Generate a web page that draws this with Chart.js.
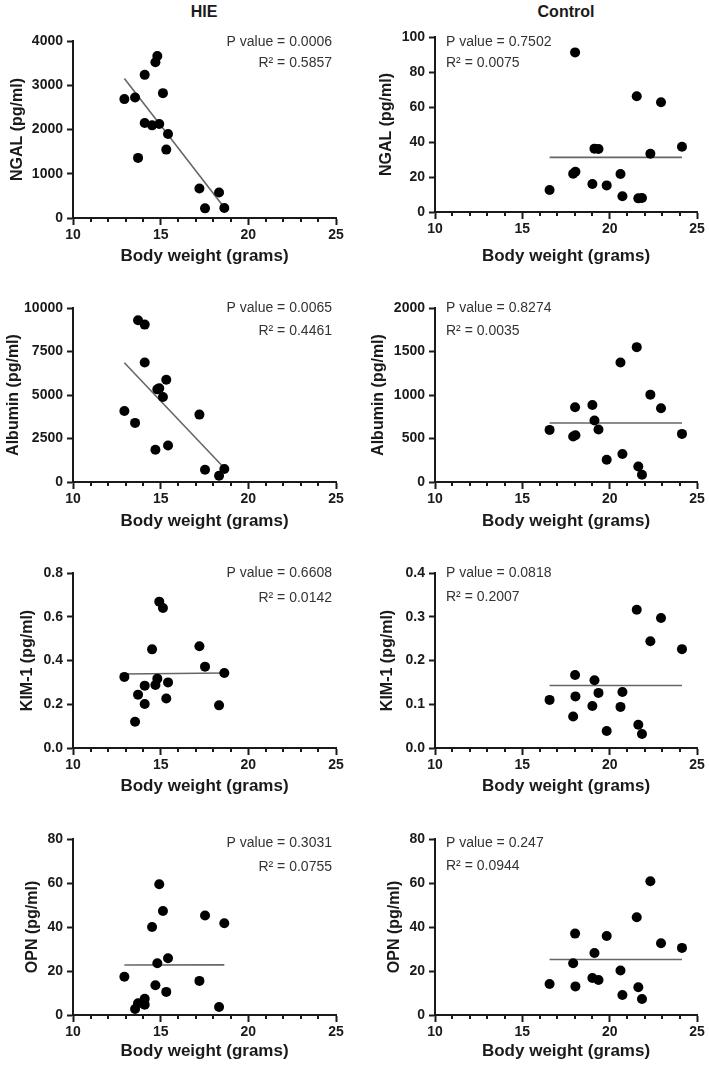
<!DOCTYPE html>
<html>
<head>
<meta charset="utf-8">
<script src="https://cdn.jsdelivr.net/npm/chart.js@4.4.0/dist/chart.umd.min.js"></script>
<style>
  html, body { margin: 0; padding: 0; background: #fff; }
  #page { position: relative; width: 709px; height: 1067px; overflow: hidden; }
  canvas { position: absolute; }
  .head { position: absolute; top: 3px; font: bold 16px "Liberation Sans", Arial, sans-serif; color: #1a1a1a; transform: translateX(-50%); white-space: nowrap; }
</style>
</head>
<body>
<div id="page">
  <div class="head" style="left:204px">HIE</div>
  <div class="head" style="left:566px">Control</div>
</div>
<script>
(function () {
    "use strict";

    // body weight (x) of each animal, same animals in all four rows
    const hieWeight = [12.93, 13.54, 13.71, 14.09, 14.09, 14.51, 14.70, 14.81, 14.92, 15.13, 15.32, 15.42, 17.21, 17.53, 18.33, 18.63];
    const ctrlWeight = [16.56, 17.91, 18.02, 18.04, 19.01, 19.13, 19.36, 19.83, 20.62, 20.73, 21.55, 21.64, 21.85, 22.33, 22.94, 24.14];

    // HIE group
    const hieNgal = [2687, 2724, 1358, 3235, 2146, 2094, 3520, 3662, 2124, 2822, 1546, 1899, 668, 218, 578, 225];
    const hieAlbumin = [4084, 3397, 9294, 9046, 6870, null, 1851, 5324, 5382, 4885, 5878, 2099, 3874, 706, 363, 744];
    const hieKim = [0.325, 0.120, 0.244, 0.285, 0.201, 0.451, 0.288, 0.317, 0.669, 0.640, 0.226, 0.300, 0.465, 0.372, 0.195, 0.343];
    const hieOpn = [17.4, 2.7, 5.3, 7.4, 4.7, 40.0, 13.5, 23.5, 59.4, 47.3, 10.5, 25.8, 15.5, 45.2, 3.6, 41.7];

    // Control group
    const ctrlNgal = [12.6, 21.9, 91.2, 23.0, 16.0, 36.2, 36.0, 15.2, 21.7, 9.0, 66.1, 7.8, 8.0, 33.3, 62.7, 37.3];
    const ctrlAlbumin = [599, 523, 859, 538, 885, 706, 603, 256, 1374, 321, 1550, 179, 84, 1004, 847, 553];
    const ctrlKim = [0.110, 0.072, 0.167, 0.118, 0.096, 0.155, 0.126, 0.039, 0.094, 0.128, 0.316, 0.053, 0.032, 0.244, 0.297, 0.226];
    const ctrlOpn = [14.1, 23.5, 37.0, 13.0, 16.8, 28.2, 15.9, 35.9, 20.2, 9.1, 44.4, 12.6, 7.3, 60.8, 32.6, 30.5];

    // regression line end points (NGAL, Albumin, KIM-1, OPN)
    const hieFitX = [[12.93, 18.57], [12.93, 18.52], [12.93, 18.63], [12.93, 18.63]];
    const hieFitY = [[3152, 263], [6851, 916], [0.338, 0.343], [22.7, 22.8]];
    const ctrlFitX = [16.56, 24.14];
    const ctrlFitY = [31.2, 679, 0.143, 25.2];

    // statistics text
    const hieP = ["0.0006", "0.0065", "0.6608", "0.3031"];
    const hieR2 = ["0.5857", "0.4461", "0.0142", "0.0755"];
    const ctrlP = ["0.7502", "0.8274", "0.0818", "0.247"];
    const ctrlR2 = ["0.0075", "0.0035", "0.2007", "0.0944"];

    // axes
    const yTitles = ["NGAL (pg/ml)", "Albumin (pg/ml)", "KIM-1 (pg/ml)", "OPN (pg/ml)"];
    const hieYMax = [4000, 10000, 0.8, 80];
    const hieYStep = [1000, 2500, 0.2, 20];
    const ctrlYMax = [100, 2000, 0.4, 80];
    const ctrlYStep = [20, 500, 0.1, 20];
    const yDecimals = [0, 0, 1, 0];

    const FONT = '"Liberation Sans", Arial, sans-serif';
    const ink = "#1a1a1a";
    const PANEL_H = 265;

    // plot-area boxes inside each canvas [left, top, right, bottom] and little layout tweaks
    const layoutHie = [
        { area: [73, 41, 336, 218], titlePad: 8, statY: [42, 63] },
        { area: [73, 43, 336, 217], titlePad: 4, statY: [43, 66] },
        { area: [73, 43, 336, 218], titlePad: 18, statY: [43, 68] },
        { area: [73, 44, 336, 220], titlePad: 23, statY: [48, 72] },
    ];
    const layoutCtrl = [
        { area: [81, 37, 343, 212], titlePad: 23, statY: [42, 63] },
        { area: [81, 43, 343, 217], titlePad: 15, statY: [43, 66] },
        { area: [81, 43, 343, 218], titlePad: 24, statY: [43, 67] },
        { area: [81, 44, 343, 220], titlePad: 31, statY: [48, 71] },
    ];

    // small x-axis ticks at every gram
    const minorTicks = {
        id: "minorTicks",
        afterDraw(chart) {
            const sx = chart.scales.x;
            const ctx = chart.ctx;
            ctx.save();
            ctx.strokeStyle = ink;
            ctx.lineWidth = 2;
            for (let v = sx.min + 1; v < sx.max; v++) {
                if (v % 5 === 0) continue;
                const px = Math.round(sx.getPixelForValue(v));
                ctx.beginPath();
                ctx.moveTo(px, sx.top);
                ctx.lineTo(px, sx.top + 4);
                ctx.stroke();
            }
            ctx.restore();
        },
    };

    // P value / R² text
    const statText = {
        id: "statText",
        afterDraw(chart, args, opts) {
            const ctx = chart.ctx;
            const a = chart.chartArea;
            ctx.save();
            ctx.font = "14px " + FONT;
            ctx.fillStyle = "#333";
            ctx.textBaseline = "middle";
            ctx.textAlign = opts.align;
            const x = opts.align === "right" ? a.right - 4 : a.left + 11;
            ctx.fillText(opts.lines[0], x, opts.ys[0]);
            ctx.fillText(opts.lines[1], x, opts.ys[1]);
            ctx.restore();
        },
    };

    const page = document.getElementById("page");

    function makePanel(row, col) {
        const isHie = col === 0;
        const lay = isHie ? layoutHie[row] : layoutCtrl[row];
        const w = isHie ? 354 : 355;
        const xs = isHie ? hieWeight : ctrlWeight;
        const ys = [
            isHie ? hieNgal : ctrlNgal,
            isHie ? hieAlbumin : ctrlAlbumin,
            isHie ? hieKim : ctrlKim,
            isHie ? hieOpn : ctrlOpn,
        ][row];
        const fitX = isHie ? hieFitX[row] : ctrlFitX;
        const fitY = isHie ? hieFitY[row] : [ctrlFitY[row], ctrlFitY[row]];
        const pTxt = isHie ? hieP[row] : ctrlP[row];
        const rTxt = isHie ? hieR2[row] : ctrlR2[row];
        const dec = yDecimals[row];

        const canvas = document.createElement("canvas");
        canvas.width = w;
        canvas.height = PANEL_H;
        canvas.style.left = (col * 354) + "px";
        canvas.style.top = (row * PANEL_H) + "px";
        page.appendChild(canvas);

        const points = [];
        xs.forEach((x, i) => {
            if (ys[i] !== null) points.push({ x: x, y: ys[i] });
        });

        new Chart(canvas.getContext("2d"), {
            type: "scatter",
            data: {
                datasets: [
                    {
                        data: points,
                        pointRadius: 5,
                        pointHoverRadius: 5,
                        backgroundColor: "#000",
                        borderWidth: 0,
                        clip: false,
                    },
                    {
                        data: fitX.map((x, i) => ({ x: x, y: fitY[i] })),
                        showLine: true,
                        pointRadius: 0,
                        borderColor: "#666",
                        borderWidth: 1.6,
                        clip: false,
                    },
                ],
            },
            options: {
                responsive: false,
                animation: false,
                events: [],
                layout: {
                    padding: { left: 0, top: lay.area[1], right: w - lay.area[2], bottom: 0 },
                },
                plugins: {
                    legend: { display: false },
                    tooltip: { enabled: false },
                    statText: {
                        align: isHie ? "right" : "left",
                        lines: ["P value = " + pTxt, "R\u00B2 = " + rTxt],
                        ys: lay.statY,
                    },
                },
                scales: {
                    x: {
                        type: "linear",
                        min: 10,
                        max: 25,
                        afterFit: (s) => { s.height = PANEL_H - lay.area[3]; },
                        ticks: {
                            stepSize: 5,
                            maxRotation: 0,
                            padding: 2,
                            color: ink,
                            font: { size: 14, weight: "bold", family: FONT },
                        },
                        grid: { drawOnChartArea: false, drawTicks: true, tickLength: 7, tickWidth: 2, tickColor: ink },
                        border: { display: true, color: ink, width: 2 },
                        title: {
                            display: true,
                            text: "Body weight (grams)",
                            color: ink,
                            font: { size: 17, weight: "bold", family: FONT, lineHeight: 1 },
                            padding: { top: 0, bottom: 0 },
                        },
                    },
                    y: {
                        type: "linear",
                        min: 0,
                        max: isHie ? hieYMax[row] : ctrlYMax[row],
                        afterFit: (s) => { s.width = lay.area[0]; },
                        ticks: {
                            stepSize: isHie ? hieYStep[row] : ctrlYStep[row],
                            padding: 4,
                            color: ink,
                            font: { size: 14, weight: "bold", family: FONT },
                            callback: (value) => Number(value).toFixed(dec),
                        },
                        grid: { drawOnChartArea: false, drawTicks: true, tickLength: 6, tickWidth: 2, tickColor: ink },
                        border: { display: true, color: ink, width: 2 },
                        title: {
                            display: true,
                            text: yTitles[row],
                            color: ink,
                            font: { size: 16, weight: "bold", family: FONT, lineHeight: 1.2 },
                            padding: { top: lay.titlePad, bottom: 0 },
                        },
                    },
                },
            },
            plugins: [minorTicks, statText],
        });
    }

    for (let r = 0; r < 4; r++) {
        makePanel(r, 0);
        makePanel(r, 1);
    }
})();
</script>
</body>
</html>
